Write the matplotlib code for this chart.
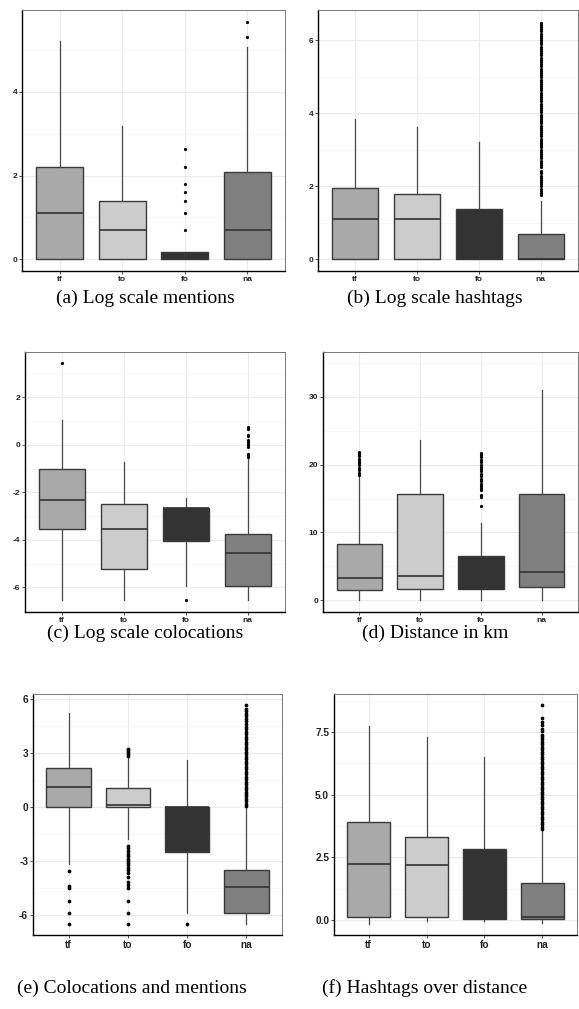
import matplotlib
matplotlib.use("Agg")
import matplotlib.pyplot as plt

categories = ["tf", "to", "fo", "na"]
fills = ["#A9A9A9", "#CCCCCC", "#333333", "#808080"]

# (a) Log scale mentions
a_q1 = [0.0, 0.0, 0.0, 0.0]
a_med = [1.10, 0.69, 0.0, 0.69]
a_q3 = [2.20, 1.38, 0.17, 2.08]
a_lo = [0.0, 0.0, 0.0, 0.0]
a_hi = [5.21, 3.18, 0.17, 5.08]
a_out = [[], [], [0.69, 1.10, 1.39, 1.61, 1.79, 2.20, 2.64], [5.31, 5.68]]

# (b) Log scale hashtags
b_q1 = [0.0, 0.0, 0.0, 0.0]
b_med = [1.09, 1.09, 0.0, 0.0]
b_q3 = [1.94, 1.79, 1.38, 0.68]
b_lo = [0.0, 0.0, 0.0, 0.0]
b_hi = [3.84, 3.63, 3.21, 1.60]
b_out = [[], [], [], [1.76, 1.82, 1.88, 1.93, 1.99, 2.05, 2.11, 2.17, 2.23, 2.29, 2.35, 2.41,
                      2.52, 2.58, 2.64, 2.70, 2.76, 2.82, 2.88, 2.94, 3.00, 3.06, 3.12, 3.18,
                      3.24, 3.30, 3.36, 3.42, 3.48, 3.54, 3.60, 3.66, 3.72, 3.78, 3.84, 3.90,
                      3.96, 4.02, 4.08, 4.14, 4.20, 4.26, 4.32, 4.38, 4.44, 4.50, 4.56, 4.62,
                      4.68, 4.74, 4.80, 4.86, 4.92, 4.98, 5.04, 5.10, 5.16, 5.22, 5.28, 5.34,
                      5.40, 5.46, 5.52, 5.58, 5.64, 5.70, 5.76, 5.82, 5.88, 5.94, 6.00, 6.06,
                      6.12, 6.18, 6.24, 6.30, 6.36, 6.42, 6.48]]

# (c) Log scale colocations
c_q1 = [-3.55, -5.24, -4.06, -5.93]
c_med = [-2.33, -3.53, -2.65, -4.57]
c_q3 = [-1.00, -2.47, -2.65, -3.77]
c_lo = [-6.52, -6.52, -5.93, -6.52]
c_hi = [1.05, -0.73, -2.22, -0.55]
c_out = [[3.42], [], [-6.53], [-0.50, -0.45, -0.38, -0.10, 0.00, 0.05, 0.10, 0.20, 0.38, 0.42, 0.68, 0.74]]

# (d) Distance in km
d_q1 = [1.48, 1.62, 1.62, 1.97]
d_med = [3.30, 3.59, 1.62, 4.13]
d_q3 = [8.36, 15.64, 6.49, 15.70]
d_lo = [0.0, 0.0, 0.0, 0.0]
d_hi = [18.35, 23.70, 11.40, 31.00]
d_out = [[18.5, 18.8, 19.2, 19.5, 19.9, 20.2, 20.6, 20.9, 21.3, 21.6, 21.9], [],
         [13.9, 15.3, 15.5, 16.2, 16.5, 16.9, 17.2, 17.6, 17.9, 18.3, 18.6, 19.0, 19.3,
          19.7, 20.0, 20.4, 20.7, 21.1, 21.4, 21.7], []]

# (e) Colocations and mentions
e_q1 = [0.0, 0.0, -2.49, -5.91]
e_med = [1.09, 0.09, 0.0, -4.43]
e_q3 = [2.18, 1.07, 0.0, -3.51]
e_lo = [-3.18, -1.79, -5.91, -6.53]
e_hi = [5.22, 2.77, 2.64, 0.0]
e_out = [[-3.54, -4.38, -4.49, -5.24, -5.91, -6.53],
         [2.85, 2.95, 3.05, 3.15, 3.20, -2.15, -2.30, -2.45, -2.60, -2.75, -2.90, -3.00,
          -3.10, -3.25, -3.40, -3.50, -3.65, -3.90, -4.20, -4.35, -4.50, -5.24, -5.91, -6.53],
         [-6.53],
         [0.05, 0.19, 0.33, 0.47, 0.61, 0.70, 0.85, 1.00, 1.12, 1.26, 1.40, 1.55, 1.68,
          1.82, 1.96, 2.10, 2.24, 2.38, 2.52, 2.66, 2.80, 2.94, 3.08, 3.22, 3.36, 3.50,
          3.64, 3.78, 3.92, 4.06, 4.20, 4.34, 4.48, 4.62, 4.76, 4.90, 5.04, 5.18, 5.32,
          5.46, 5.69]]

# (f) Hashtags over distance
f_q1 = [0.10, 0.10, 0.05, 0.05]
f_med = [2.25, 2.19, 0.05, 0.10]
f_q3 = [3.92, 3.31, 2.82, 1.47]
f_lo = [-0.16, -0.05, -0.03, -0.13]
f_hi = [7.75, 7.30, 6.49, 3.58]
f_out = [[], [], [],
         [3.62, 3.72, 3.82, 3.92, 4.02, 4.12, 4.22, 4.32, 4.42, 4.52, 4.62, 4.72, 4.82,
          4.92, 5.02, 5.12, 5.22, 5.32, 5.42, 5.52, 5.62, 5.72, 5.82, 5.92, 6.02, 6.12,
          6.22, 6.32, 6.42, 6.52, 6.62, 6.72, 6.82, 6.92, 7.02, 7.12, 7.22, 7.32, 7.40,
          7.53, 7.62, 7.80, 7.92, 8.08, 8.59]]

panels = [
    (a_q1, a_med, a_q3, a_lo, a_hi, a_out, [0, 2, 4], ["0", "2", "4"], (-0.284, 5.96), 6.0, 2.3),
    (b_q1, b_med, b_q3, b_lo, b_hi, b_out, [0, 2, 4, 6], ["0", "2", "4", "6"], (-0.325, 6.825), 6.0, 2.3),
    (c_q1, c_med, c_q3, c_lo, c_hi, c_out, [-6, -4, -2, 0, 2], ["-6", "-4", "-2", "0", "2"], (-7.03, 3.9), 6.0, 2.3),
    (d_q1, d_med, d_q3, d_lo, d_hi, d_out, [0, 10, 20, 30], ["0", "10", "20", "30"], (-1.72, 36.6), 6.0, 2.3),
    (e_q1, e_med, e_q3, e_lo, e_hi, e_out, [-6, -3, 0, 3, 6], ["-6", "-3", "0", "3", "6"], (-7.13, 6.29), 7.3, 2.7),
    (f_q1, f_med, f_q3, f_lo, f_hi, f_out, [0, 2.5, 5.0, 7.5], ["0.0", "2.5", "5.0", "7.5"], (-0.6, 9.02), 7.3, 2.7),
]

# pixel boxes: left, right, top, bottom
boxes_px = [(22, 285, 10, 271), (318, 578, 10, 271),
            (25, 285, 352, 612), (323, 578, 352, 612),
            (33, 282, 694, 935), (334, 577, 694, 935)]

captions = ["(a) Log scale mentions", "(b) Log scale hashtags",
            "(c) Log scale colocations", "(d) Distance in km",
            "(e) Colocations and mentions", "(f) Hashtags over distance"]
caption_xy = [(145, 298), (435, 298), (145, 633), (435, 633), (132, 988), (425, 988)]

W, H = 579, 1009
fig = plt.figure(figsize=(W / 100, H / 100), dpi=100)

for i, (q1, med, q3, lo, hi, out, yt, ytl, ylim, fs, ms) in enumerate(panels):
    l, r, t, b = boxes_px[i]
    ax = fig.add_axes([l / W, 1 - b / H, (r - l) / W, (b - t) / H])
    stats = []
    for j, cat in enumerate(categories):
        stats.append(dict(label=cat, q1=q1[j], med=med[j], q3=q3[j],
                          whislo=lo[j], whishi=hi[j], fliers=out[j]))
    bp = ax.bxp(stats, positions=[1, 2, 3, 4], widths=0.75, patch_artist=True,
                showcaps=False,
                boxprops=dict(edgecolor="#3a3a3a", linewidth=1.0),
                medianprops=dict(color="#333333", linewidth=1.2),
                whiskerprops=dict(color="#4a4a4a", linewidth=0.9),
                flierprops=dict(marker="o", markersize=ms, markerfacecolor="black",
                                markeredgewidth=0, linestyle="none"),
                zorder=3)
    for patch, c in zip(bp["boxes"], fills):
        patch.set_facecolor(c)
    ax.set_xlim(0.4, 4.6)
    ax.set_ylim(*ylim)
    ax.set_yticks(yt)
    ax.set_yticklabels(ytl)
    step = yt[1] - yt[0]
    minor = [yt[0] - step / 2] + [(yt[k] + yt[k + 1]) / 2 for k in range(len(yt) - 1)] + [yt[-1] + step / 2]
    ax.set_yticks([m for m in minor if ylim[0] < m < ylim[1]], minor=True)
    ax.tick_params(axis="y", which="minor", length=0)
    ax.grid(True, which="major", color="#EBEBEB", linewidth=0.8, zorder=0)
    ax.grid(True, which="minor", axis="y", color="#F4F4F4", linewidth=0.5, zorder=0)
    ax.set_axisbelow(True)
    for lab in ax.get_xticklabels() + ax.get_yticklabels():
        lab.set_fontfamily("Liberation Sans")
        lab.set_fontweight("bold")
        lab.set_fontsize(fs)
        lab.set_color("#222222")
    ax.tick_params(axis="both", which="major", length=2, width=0.6, pad=1.5, color="#333333")
    for side in ["left", "bottom"]:
        ax.spines[side].set_color("black")
        ax.spines[side].set_linewidth(1.0)
    for side in ["top", "right"]:
        ax.spines[side].set_color("#777777")
        ax.spines[side].set_linewidth(0.7)
    cx, cy = caption_xy[i]
    fig.text(cx / W, 1 - cy / H, captions[i], ha="center", va="center",
             fontfamily="Liberation Serif", fontsize=14)

fig.savefig("out.png", dpi=100)
